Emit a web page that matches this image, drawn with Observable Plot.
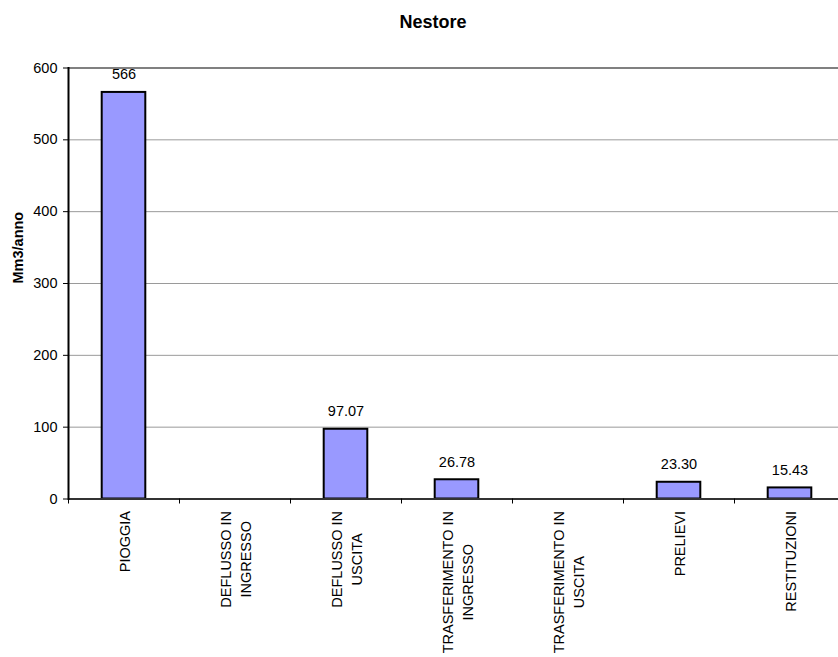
<!DOCTYPE html>
<html>
<head>
<meta charset="utf-8">
<script src="https://cdn.jsdelivr.net/npm/d3@7"></script>
<script src="https://cdn.jsdelivr.net/npm/@observablehq/plot@0.6"></script>
<style>
  html, body { margin: 0; padding: 0; background: #fff; overflow: hidden; }
  #chart { position: relative; width: 838px; height: 657px; overflow: hidden; font-family: "Liberation Sans", Arial, sans-serif; }
  #title { position: relative; height: 40px; box-sizing: border-box; padding-top: 2px; line-height: 40px; }
  #title span { position: absolute; left: 433px; transform: translateX(-50%); font-weight: bold; font-size: 18px; color: #000; white-space: nowrap; }
  #chart svg { display: block; max-width: none !important; width: 845px !important; height: 617px !important; }
</style>
</head>
<body>
<div id="chart">
  <div id="title"><span>Nestore</span></div>
</div>
<script>
// Bilancio idrico – bacino del Nestore (Mm3/anno)
const categories = [
  "PIOGGIA",
  "DEFLUSSO IN\nINGRESSO",
  "DEFLUSSO IN\nUSCITA",
  "TRASFERIMENTO IN\nINGRESSO",
  "TRASFERIMENTO IN\nUSCITA",
  "PRELIEVI",
  "RESTITUZIONI"
];
const values = [566, null, 97.07, 26.78, null, 23.30, 15.43];
const yTicks = [0, 100, 200, 300, 400, 500, 600];
const yLabel = "Mm3/anno";

const rows = categories.map((cat, i) => ({cat, value: values[i]}));
const present = rows.filter(d => d.value != null);
const fmt = v => Number.isInteger(v) ? String(v) : v.toFixed(2);

const font = 14.5;
const fontFamily = "'Liberation Sans', Arial, sans-serif";
// the plot area runs slightly past the right edge of the page
const W = 845, marginLeft = 68, marginRight = 0;
const step = (W - marginLeft - marginRight) / categories.length;
const barWidth = 43.6;
const inset = (step - barWidth) / 2;

// width of the longest line of a category label, to hang the rotated labels from the axis
const ctx = document.createElement("canvas").getContext("2d");
ctx.font = `${font}px ${fontFamily}`;
const longest = s => Math.max(...s.split("\n").map(l => ctx.measureText(l).width));

const labelMarks = categories.map(c => Plot.text([c], {
  x: d => d,
  text: d => d,
  frameAnchor: "bottom",
  rotate: -90,
  textAnchor: "middle",
  lineAnchor: "middle",
  lineHeight: 20 / font,
  fontSize: font,
  fill: "#000",
  dy: 12 + longest(c) / 2
}));

const plot = Plot.plot({
  width: W,
  height: 617,
  marginTop: 27.5,
  marginBottom: 158.5,
  marginLeft,
  marginRight,
  style: {fontFamily, fontSize: font + "px", color: "#000", background: "transparent", overflow: "hidden"},
  x: {domain: categories, padding: 0, label: null},
  y: {domain: [0, 600], label: null},
  marks: [
    Plot.ruleY(yTicks.filter(t => t > 0 && t < 600), {stroke: "#9a9a9a", strokeWidth: 1}),
    Plot.ruleY([600], {stroke: "#808080", strokeWidth: 2}),
    Plot.barY(present, {
      x: "cat", y: "value",
      fill: "#9999ff", stroke: "#000", strokeWidth: 2,
      insetLeft: inset, insetRight: inset
    }),
    Plot.text(present, {
      x: "cat", y: "value", text: d => fmt(d.value),
      lineAnchor: "bottom", dy: -13, fontSize: font, fill: "#000"
    }),
    Plot.ruleY([0], {stroke: "#333", strokeWidth: 2}),
    Plot.frame({anchor: "left", stroke: "#000", strokeWidth: 2}),
    Plot.axisY({ticks: yTicks, tickSize: 5, tickPadding: 6, fontSize: font, stroke: "#000", label: null}),
    Plot.axisX({tickSize: 5, tickFormat: () => "", dx: -step / 2, stroke: "#000", label: null}),
    Plot.text([yLabel], {
      text: d => d, frameAnchor: "left", rotate: -90, dx: -49.7,
      fontWeight: "bold", fontSize: font, fill: "#000"
    }),
    ...labelMarks
  ]
});

document.getElementById("chart").appendChild(plot);
</script>
</body>
</html>
